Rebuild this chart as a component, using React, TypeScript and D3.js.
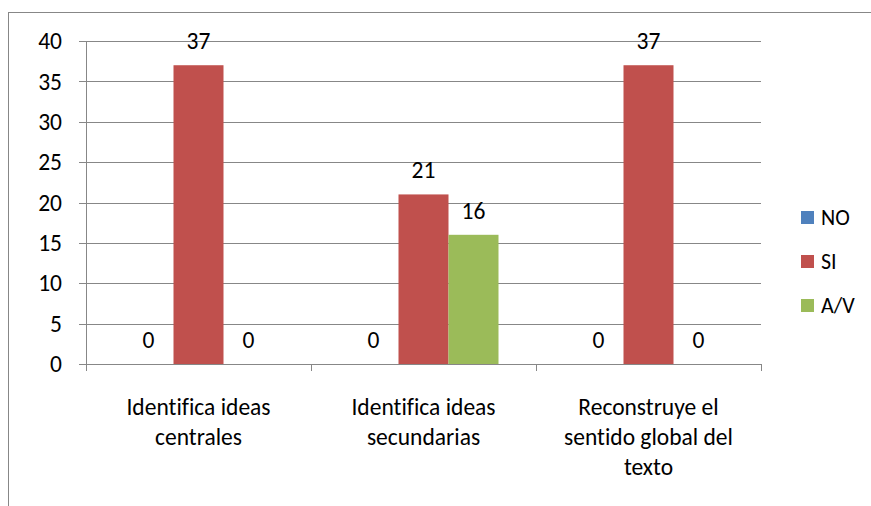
import React from "react";
import * as d3 from "d3";

const categories: string[][] = [
  ["Identifica ideas", "centrales"],
  ["Identifica ideas", "secundarias"],
  ["Reconstruye el", "sentido global del", "texto"],
];
const seriesNames = ["NO", "SI", "A/V"];
const seriesColors = ["#4F81BD", "#C0504D", "#9BBB59"];
const noValues = [0, 0, 0];
const siValues = [37, 21, 37];
const avValues = [0, 16, 0];
const yTicks = [0, 5, 10, 15, 20, 25, 30, 35, 40];

const FONT = "Carlito, Calibri, Lato, sans-serif";

export default function App() {
  const W = 871, H = 506;
  const left = 86, right = 761, top = 41, bottom = 364;
  const series = [noValues, siValues, avValues];
  const y = d3.scaleLinear().domain([0, 40]).range([bottom, top]);
  const x0 = d3.scaleBand<number>().domain(d3.range(categories.length)).range([left, right]).paddingInner(0).paddingOuter(0);
  const groupPad = x0.bandwidth() / 6; // gap 150%
  const x1 = d3.scaleBand<number>().domain(d3.range(series.length)).range([groupPad, x0.bandwidth() - groupPad]);
  const grid = "#878787";
  const fs = 23.5;
  return (
    <svg width={W} height={H} style={{ position: "absolute", left: 0, top: 0, background: "#fff" }} fontFamily={FONT}>
      <rect x={8.5} y={12.5} width={900} height={600} fill="#fff" stroke={grid} strokeWidth={1} />
      {yTicks.map((t) => (
        <g key={t}>
          {t > 0 && <line x1={left} x2={right} y1={Math.round(y(t)) + 0.5} y2={Math.round(y(t)) + 0.5} stroke={grid} strokeWidth={1} />}
          <line x1={left - 7} x2={left} y1={Math.round(y(t)) + 0.5} y2={Math.round(y(t)) + 0.5} stroke={grid} />
          <text x={left - 24} y={y(t)} dy="0.35em" textAnchor="end" fontSize={fs} fill="#000">{t}</text>
        </g>
      ))}
      {series.map((vals, si) =>
        vals.map((v, ci) => {
          const bx = x0(ci)! + x1(si)!;
          return v > 0 ? (
            <rect key={`b${si}-${ci}`} x={bx} y={y(v)} width={x1.bandwidth()} height={bottom - y(v)} fill={seriesColors[si]} />
          ) : null;
        })
      )}
      {series.map((vals, si) =>
        vals.map((v, ci) => {
          const bx = x0(ci)! + x1(si)! + x1.bandwidth() / 2;
          return (
            <text key={`l${si}-${ci}`} x={bx} y={y(v) - 16} textAnchor="middle" fontSize={fs} fill="#000">{v}</text>
          );
        })
      )}
      <line x1={left + 0.5} x2={left + 0.5} y1={top} y2={bottom} stroke={grid} />
      <line x1={left - 7} x2={right} y1={bottom + 0.5} y2={bottom + 0.5} stroke={grid} />
      {d3.range(categories.length + 1).map((i) => {
        const xx = Math.round(left + i * x0.bandwidth()) + 0.5;
        return <line key={`ct${i}`} x1={xx} x2={xx} y1={bottom} y2={bottom + 7} stroke={grid} />;
      })}
      {categories.map((lines, ci) => (
        <text key={`c${ci}`} x={x0(ci)! + x0.bandwidth() / 2} y={415} textAnchor="middle" fontSize={fs} fill="#000" style={{ fontVariantLigatures: "none" }}>
          {lines.map((ln, li) => (
            <tspan key={li} x={x0(ci)! + x0.bandwidth() / 2} dy={li === 0 ? 0 : 30}>{ln}</tspan>
          ))}
        </text>
      ))}
      {seriesNames.map((n, i) => (
        <g key={n} transform={`translate(801, ${211 + i * 44})`}>
          <rect x={0} y={0} width={13} height={13} fill={seriesColors[i]} />
          <text x={20} y={14} fontSize={22} fill="#000">{n}</text>
        </g>
      ))}
    </svg>
  );
}
